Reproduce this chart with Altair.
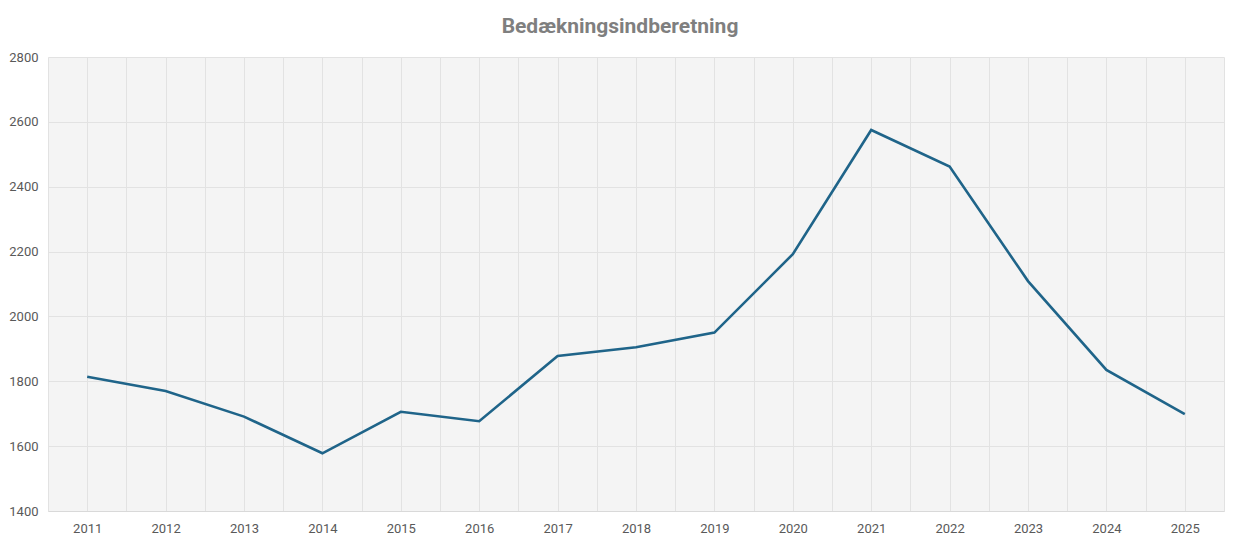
import altair as alt
import pandas as pd

years = [2011, 2012, 2013, 2014, 2015, 2016, 2017, 2018, 2019, 2020, 2021, 2022, 2023, 2024, 2025]
values = [1814, 1770, 1691, 1578, 1706, 1677, 1878, 1905, 1950, 2192, 2575, 2462, 2109, 1835, 1699]
y_ticks = [1400, 1600, 1800, 2000, 2200, 2400, 2600, 2800]
x_grid = [y + d for y in [2010] + years for d in (0.5, 1.0)][:-1]

df = pd.DataFrame({"year": years, "value": values})

FONT = "Roboto"
LABEL_COLOR = "#595959"
GRID = "#e2e2e2"

chart = alt.Chart(df).mark_line(color="#1f6489", strokeWidth=2.6, strokeJoin="miter").encode(
    x=alt.X("year:Q",
            scale=alt.Scale(domain=[2010.5, 2025.5], nice=False, zero=False),
            axis=alt.Axis(values=x_grid, title=None, grid=True, gridColor=GRID, gridWidth=1,
                          ticks=False, domain=True, domainColor="#d9d9d9", domainWidth=1,
                          labelExpr="datum.value % 1 === 0 ? toString(datum.value) : ''",
                          labelFont=FONT, labelFontSize=13, labelColor=LABEL_COLOR,
                          labelPadding=11, labelOverlap=False, labelFlush=False)),
    y=alt.Y("value:Q",
            scale=alt.Scale(domain=[1400, 2800], nice=False, zero=False),
            axis=alt.Axis(values=y_ticks, title=None, grid=True, gridColor=GRID, gridWidth=1,
                          ticks=False, domain=False, format="d",
                          labelFont=FONT, labelFontSize=13, labelColor=LABEL_COLOR,
                          labelPadding=10)),
).properties(
    width=1176,
    height=454,
    title=alt.TitleParams("Bedækningsindberetning", font=FONT, fontSize=21, fontWeight="bold",
                          color="#7f7f7f", anchor="middle", dx=-16, offset=14),
    autosize=alt.AutoSizeParams(type="none"),
    padding={"left": 40, "top": 49, "right": 8, "bottom": 26},
    background="white",
).configure_view(
    fill="#f4f4f4", stroke=None
)

chart.save("out.html", embed_options={"renderer": "svg", "actions": False})
